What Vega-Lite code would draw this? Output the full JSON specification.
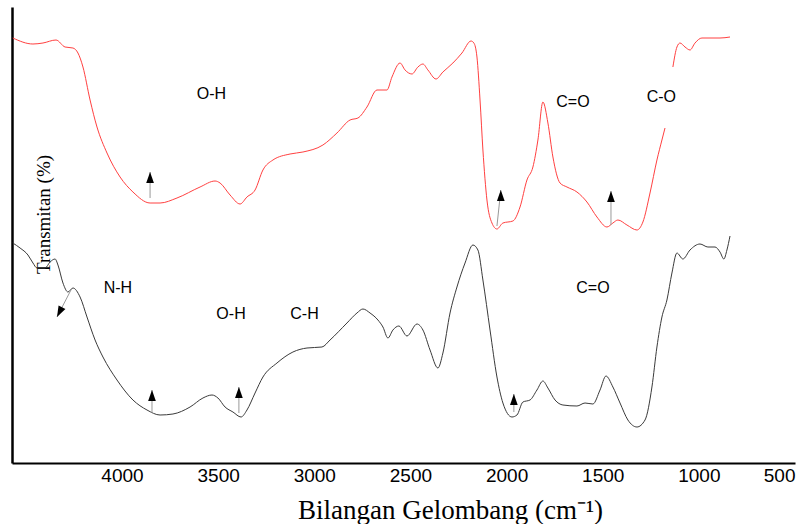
{
  "$schema": "https://vega.github.io/schema/vega-lite/v6.json",
  "width": 783,
  "height": 456,
  "autosize": {"type": "none"},
  "padding": {"left": 12, "top": 7, "right": 17, "bottom": 61},
  "background": "white",
  "config": {"view": {"stroke": null}},
  "datasets": {
    "spectra": [
      {"s":"a","g":"a1","wn":4568,"t":425},{"s":"a","g":"a1","wn":4463,"t":419},{"s":"a","g":"a1","wn":4411,"t":420},{"s":"a","g":"a1","wn":4343,"t":423},{"s":"a","g":"a1","wn":4296,"t":416},{"s":"a","g":"a1","wn":4255,"t":415},{"s":"a","g":"a1","wn":4229,"t":410},{"s":"a","g":"a1","wn":4203,"t":396},{"s":"a","g":"a1","wn":4166,"t":363},{"s":"a","g":"a1","wn":4130,"t":336},{"s":"a","g":"a1","wn":4078,"t":310},{"s":"a","g":"a1","wn":4010,"t":286},{"s":"a","g":"a1","wn":3943,"t":271},{"s":"a","g":"a1","wn":3854,"t":260},{"s":"a","g":"a1","wn":3802,"t":260},{"s":"a","g":"a1","wn":3714,"t":265},{"s":"a","g":"a1","wn":3594,"t":276},{"s":"a","g":"a1","wn":3516,"t":282},{"s":"a","g":"a1","wn":3490,"t":280},{"s":"a","g":"a1","wn":3438,"t":268},{"s":"a","g":"a1","wn":3386,"t":259},{"s":"a","g":"a1","wn":3350,"t":266},{"s":"a","g":"a1","wn":3308,"t":273},{"s":"a","g":"a1","wn":3267,"t":293},{"s":"a","g":"a1","wn":3215,"t":303},{"s":"a","g":"a1","wn":3126,"t":309},{"s":"a","g":"a1","wn":3059,"t":311},{"s":"a","g":"a1","wn":2955,"t":318},{"s":"a","g":"a1","wn":2882,"t":330},{"s":"a","g":"a1","wn":2814,"t":343},{"s":"a","g":"a1","wn":2773,"t":345},{"s":"a","g":"a1","wn":2726,"t":356},{"s":"a","g":"a1","wn":2674,"t":373},{"s":"a","g":"a1","wn":2622,"t":373},{"s":"a","g":"a1","wn":2596,"t":386},{"s":"a","g":"a1","wn":2554,"t":400},{"s":"a","g":"a1","wn":2528,"t":393},{"s":"a","g":"a1","wn":2492,"t":389},{"s":"a","g":"a1","wn":2461,"t":396},{"s":"a","g":"a1","wn":2435,"t":399},{"s":"a","g":"a1","wn":2409,"t":393},{"s":"a","g":"a1","wn":2367,"t":384},{"s":"a","g":"a1","wn":2331,"t":391},{"s":"a","g":"a1","wn":2279,"t":400},{"s":"a","g":"a1","wn":2232,"t":410},{"s":"a","g":"a1","wn":2185,"t":422},{"s":"a","g":"a1","wn":2170,"t":420},{"s":"a","g":"a1","wn":2154,"t":406},{"s":"a","g":"a1","wn":2138,"t":363},{"s":"a","g":"a1","wn":2123,"t":313},{"s":"a","g":"a1","wn":2102,"t":263},{"s":"a","g":"a1","wn":2076,"t":240},{"s":"a","g":"a1","wn":2050,"t":234},{"s":"a","g":"a1","wn":2019,"t":240},{"s":"a","g":"a1","wn":1967,"t":242},{"s":"a","g":"a1","wn":1930,"t":256},{"s":"a","g":"a1","wn":1894,"t":283},{"s":"a","g":"a1","wn":1863,"t":296},{"s":"a","g":"a1","wn":1837,"t":323},{"s":"a","g":"a1","wn":1811,"t":361},{"s":"a","g":"a1","wn":1785,"t":340},{"s":"a","g":"a1","wn":1759,"t":306},{"s":"a","g":"a1","wn":1722,"t":280},{"s":"a","g":"a1","wn":1686,"t":276},{"s":"a","g":"a1","wn":1634,"t":271},{"s":"a","g":"a1","wn":1582,"t":261},{"s":"a","g":"a1","wn":1530,"t":246},{"s":"a","g":"a1","wn":1478,"t":236},{"s":"a","g":"a1","wn":1447,"t":240},{"s":"a","g":"a1","wn":1421,"t":243},{"s":"a","g":"a1","wn":1374,"t":238},{"s":"a","g":"a1","wn":1322,"t":233},{"s":"a","g":"a1","wn":1291,"t":241},{"s":"a","g":"a1","wn":1254,"t":270},{"s":"a","g":"a1","wn":1218,"t":303},{"s":"a","g":"a1","wn":1192,"t":323},{"s":"a","g":"a1","wn":1176,"t":335},
      {"s":"a","g":"a2","wn":1135,"t":396},{"s":"a","g":"a2","wn":1114,"t":416},{"s":"a","g":"a2","wn":1098,"t":420},{"s":"a","g":"a2","wn":1072,"t":416},{"s":"a","g":"a2","wn":1046,"t":413},{"s":"a","g":"a2","wn":1020,"t":420},{"s":"a","g":"a2","wn":984,"t":425},{"s":"a","g":"a2","wn":942,"t":425},{"s":"a","g":"a2","wn":890,"t":425},{"s":"a","g":"a2","wn":838,"t":426},
      {"s":"b","g":"b1","wn":4568,"t":220},{"s":"b","g":"b1","wn":4530,"t":215},{"s":"b","g":"b1","wn":4489,"t":208},{"s":"b","g":"b1","wn":4463,"t":200},{"s":"b","g":"b1","wn":4442,"t":195},{"s":"b","g":"b1","wn":4400,"t":195},{"s":"b","g":"b1","wn":4374,"t":201},{"s":"b","g":"b1","wn":4348,"t":204},{"s":"b","g":"b1","wn":4333,"t":198},{"s":"b","g":"b1","wn":4307,"t":180},{"s":"b","g":"b1","wn":4281,"t":171},{"s":"b","g":"b1","wn":4255,"t":175},{"s":"b","g":"b1","wn":4218,"t":166},{"s":"b","g":"b1","wn":4182,"t":146},{"s":"b","g":"b1","wn":4140,"t":123},{"s":"b","g":"b1","wn":4099,"t":106},{"s":"b","g":"b1","wn":4026,"t":83},{"s":"b","g":"b1","wn":3943,"t":63},{"s":"b","g":"b1","wn":3870,"t":53},{"s":"b","g":"b1","wn":3802,"t":48},{"s":"b","g":"b1","wn":3735,"t":49},{"s":"b","g":"b1","wn":3646,"t":56},{"s":"b","g":"b1","wn":3579,"t":65},{"s":"b","g":"b1","wn":3532,"t":68},{"s":"b","g":"b1","wn":3501,"t":65},{"s":"b","g":"b1","wn":3464,"t":56},{"s":"b","g":"b1","wn":3423,"t":51},{"s":"b","g":"b1","wn":3381,"t":46},{"s":"b","g":"b1","wn":3350,"t":53},{"s":"b","g":"b1","wn":3308,"t":70},{"s":"b","g":"b1","wn":3267,"t":86},{"s":"b","g":"b1","wn":3194,"t":100},{"s":"b","g":"b1","wn":3111,"t":111},{"s":"b","g":"b1","wn":3038,"t":115},{"s":"b","g":"b1","wn":2960,"t":116},{"s":"b","g":"b1","wn":2918,"t":123},{"s":"b","g":"b1","wn":2830,"t":140},{"s":"b","g":"b1","wn":2778,"t":150},{"s":"b","g":"b1","wn":2747,"t":154},{"s":"b","g":"b1","wn":2710,"t":150},{"s":"b","g":"b1","wn":2669,"t":143},{"s":"b","g":"b1","wn":2643,"t":136},{"s":"b","g":"b1","wn":2617,"t":125},{"s":"b","g":"b1","wn":2591,"t":133},{"s":"b","g":"b1","wn":2560,"t":137},{"s":"b","g":"b1","wn":2518,"t":127},{"s":"b","g":"b1","wn":2466,"t":139},{"s":"b","g":"b1","wn":2435,"t":133},{"s":"b","g":"b1","wn":2398,"t":113},{"s":"b","g":"b1","wn":2357,"t":95},{"s":"b","g":"b1","wn":2331,"t":110},{"s":"b","g":"b1","wn":2294,"t":150},{"s":"b","g":"b1","wn":2258,"t":176},{"s":"b","g":"b1","wn":2216,"t":200},{"s":"b","g":"b1","wn":2175,"t":218},{"s":"b","g":"b1","wn":2149,"t":213},{"s":"b","g":"b1","wn":2123,"t":183},{"s":"b","g":"b1","wn":2086,"t":133},{"s":"b","g":"b1","wn":2050,"t":86},{"s":"b","g":"b1","wn":2019,"t":60},{"s":"b","g":"b1","wn":1972,"t":46},{"s":"b","g":"b1","wn":1946,"t":48},{"s":"b","g":"b1","wn":1915,"t":61},{"s":"b","g":"b1","wn":1878,"t":63},{"s":"b","g":"b1","wn":1842,"t":73},{"s":"b","g":"b1","wn":1811,"t":82},{"s":"b","g":"b1","wn":1785,"t":75},{"s":"b","g":"b1","wn":1748,"t":63},{"s":"b","g":"b1","wn":1707,"t":58},{"s":"b","g":"b1","wn":1634,"t":57},{"s":"b","g":"b1","wn":1592,"t":60},{"s":"b","g":"b1","wn":1551,"t":59},{"s":"b","g":"b1","wn":1514,"t":73},{"s":"b","g":"b1","wn":1483,"t":87},{"s":"b","g":"b1","wn":1447,"t":76},{"s":"b","g":"b1","wn":1410,"t":60},{"s":"b","g":"b1","wn":1369,"t":43},{"s":"b","g":"b1","wn":1322,"t":36},{"s":"b","g":"b1","wn":1280,"t":43},{"s":"b","g":"b1","wn":1244,"t":76},{"s":"b","g":"b1","wn":1218,"t":116},{"s":"b","g":"b1","wn":1192,"t":146},{"s":"b","g":"b1","wn":1166,"t":163},{"s":"b","g":"b1","wn":1140,"t":190},{"s":"b","g":"b1","wn":1114,"t":210},{"s":"b","g":"b1","wn":1083,"t":204},{"s":"b","g":"b1","wn":1046,"t":213},{"s":"b","g":"b1","wn":994,"t":219},{"s":"b","g":"b1","wn":953,"t":216},{"s":"b","g":"b1","wn":916,"t":216},{"s":"b","g":"b1","wn":890,"t":211},{"s":"b","g":"b1","wn":870,"t":204},{"s":"b","g":"b1","wn":854,"t":213},{"s":"b","g":"b1","wn":838,"t":227}
    ],
    "labels": [
      {"label":"O-H","wn":3535,"t":369},
      {"label":"C=O","wn":1655,"t":361},
      {"label":"C-O","wn":1195,"t":366},
      {"label":"N-H","wn":4021,"t":175},
      {"label":"O-H","wn":3433,"t":149},
      {"label":"C-H","wn":3051,"t":149},
      {"label":"C=O","wn":1551,"t":175}
    ],
    "arrows": [
      {"kind":"up","wn":3854,"wn2":3854,"t":265,"t2":291},
      {"kind":"up","wn":2050,"wn2":2030,"t":237,"t2":273},
      {"kind":"up","wn":1457,"wn2":1457,"t":238,"t2":272},
      {"kind":"up","wn":3844,"wn2":3844,"t":50,"t2":73},
      {"kind":"up","wn":3392,"wn2":3392,"t":50,"t2":76},
      {"kind":"up","wn":1962,"wn2":1962,"t":51,"t2":69},
      {"kind":"diag","wn":4260,"wn2":4338,"t":175,"t2":146}
    ]
  },
  "encoding": {
    "x": {"field":"wn","type":"quantitative","scale":{"domain":[4572,500],"nice":false,"zero":false}},
    "y": {"field":"t","type":"quantitative","scale":{"domain":[0,456],"nice":false,"zero":false}}
  },
  "layer": [
    {
      "data": {"name":"spectra"},
      "mark": {"type":"line","strokeWidth":1,"interpolate":"monotone"},
      "encoding": {
        "x": {"field":"wn","type":"quantitative",
          "axis": {"values":[4000,3500,3000,2500,2000,1500,1000,500],"format":"d","ticks":false,"grid":false,
            "domainColor":"#000","domainWidth":2,"labelFont":"Liberation Sans","labelFontSize":19,"labelColor":"#000","labelPadding":3,
            "title":"Bilangan Gelombang (cm⁻¹)","titleFont":"Liberation Serif","titleFontSize":27,"titleFontWeight":"normal","titleColor":"#000",
            "titleX":438,"titleY":47,"titleBaseline":"middle","titleAnchor":"middle"}},
        "y": {"field":"t","type":"quantitative",
          "axis": {"ticks":false,"labels":false,"grid":false,"domainColor":"#000","domainWidth":2.5,
            "title":"Transmitan (%)","titleFont":"Liberation Serif","titleFontSize":19,"titleFontWeight":"normal","titleColor":"#000",
            "titleX":31,"titleY":207,"titleBaseline":"middle","titleAngle":270,"titleAlign":"center"}},
        "color": {"field":"s","type":"nominal","scale":{"domain":["a","b"],"range":["#ff4040","#3a3a3a"]},"legend":null},
        "detail": {"field":"g"}
      }
    },
    {
      "data": {"name":"arrows"},
      "mark": {"type":"rule","color":"#999","strokeWidth":1},
      "encoding": {
        "x": {"field":"wn","type":"quantitative"},
        "x2": {"field":"wn2"},
        "y": {"field":"t","type":"quantitative"},
        "y2": {"field":"t2"}
      }
    },
    {
      "data": {"name":"arrows"},
      "transform": [{"filter":"datum.kind == 'up'"}],
      "mark": {"type":"point","shape":"M0,-1L-0.7,1L0.7,1Z","filled":true,"color":"#000","size":121,"opacity":1,"yOffset":5.5},
      "encoding": {
        "x": {"field":"wn2","type":"quantitative"},
        "y": {"field":"t2","type":"quantitative"}
      }
    },
    {
      "data": {"name":"arrows"},
      "transform": [{"filter":"datum.kind == 'diag'"}],
      "mark": {"type":"point","shape":"M0,-1L-0.7,1L0.7,1Z","filled":true,"color":"#000","size":121,"opacity":1,"angle":207,"xOffset":2.5,"yOffset":-4.9},
      "encoding": {
        "x": {"field":"wn2","type":"quantitative"},
        "y": {"field":"t2","type":"quantitative"}
      }
    },
    {
      "data": {"name":"labels"},
      "mark": {"type":"text","font":"Liberation Sans","fontSize":16,"color":"#000","align":"center","baseline":"middle"},
      "encoding": {
        "x": {"field":"wn","type":"quantitative"},
        "y": {"field":"t","type":"quantitative"},
        "text": {"field":"label"}
      }
    }
  ]
}
